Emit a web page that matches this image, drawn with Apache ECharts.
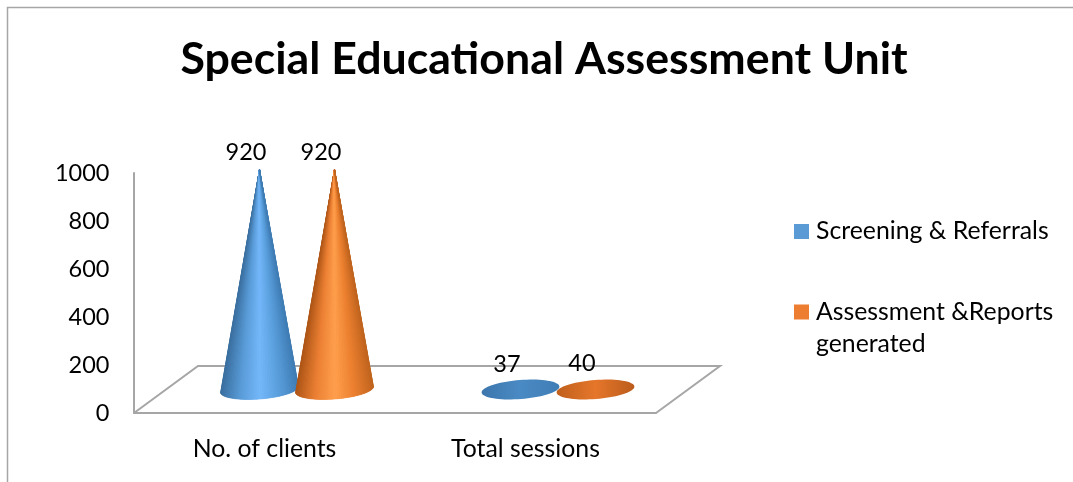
<!DOCTYPE html>
<html>
<head>
<meta charset="utf-8">
<style>html,body{margin:0;padding:0;background:#fff}#c{width:1073px;height:482px}</style>
<script src="https://cdn.jsdelivr.net/npm/echarts@6/dist/echarts.min.js"></script>
</head>
<body>
<div id="c"></div>
<script>
const titleText = "Special Educational Assessment Unit";
const categories = ["No. of clients", "Total sessions"];
const screening = [920, 37];
const assessment = [920, 40];
const seriesNames = ["Screening & Referrals", "Assessment &Reports generated"];

const FONT = "Lato";
const GRAY = "#a6a6a6";
const DEPTH_X = 64, DEPTH_Y = 47, CLUSTER = 37.5, RX = 39, RY = 9.5, TILT = -4.5 * Math.PI / 180;

const palettes = [
  { tall: ["#3f7cb4", "#5a9fdc", "#75b8fb", "#5a9cd8", "#3a6e9e"], flat: ["#3c76ad", "#4a8ac4", "#3f7db5"] },
  { tall: ["#c0641f", "#ec8030", "#ffa04e", "#ec8034", "#ad5517"], flat: ["#c0601d", "#e5762a", "#bb5c1c"] }
];

function hull(pts) {
  const p = pts.slice().sort((a, b) => a[0] - b[0] || a[1] - b[1]);
  const cross = (o, a, b) => (a[0] - o[0]) * (b[1] - o[1]) - (a[1] - o[1]) * (b[0] - o[0]);
  const lo = [], up = [];
  for (const q of p) { while (lo.length > 1 && cross(lo[lo.length - 2], lo[lo.length - 1], q) <= 0) lo.pop(); lo.push(q); }
  for (const q of p.slice().reverse()) { while (up.length > 1 && cross(up[up.length - 2], up[up.length - 1], q) <= 0) up.pop(); up.push(q); }
  return lo.slice(0, -1).concat(up.slice(0, -1));
}

function coneRenderer(seriesIndex) {
  return function (params, api) {
    const cat = api.value(0), val = api.value(1);
    const base = api.coord([cat, 0]);
    const top = api.coord([cat, val]);
    const side = seriesIndex === 0 ? -1 : 1;
    const cx = base[0] + DEPTH_X / 2 + side * CLUSTER + 0.5;
    const cy = base[1] - DEPTH_Y / 2;
    const tipY = top[1] - DEPTH_Y / 2 + 1;
    const ell = t => [
      cx + RX * Math.cos(t) * Math.cos(TILT) - RY * Math.sin(t) * Math.sin(TILT),
      cy + RX * Math.cos(t) * Math.sin(TILT) + RY * Math.sin(t) * Math.cos(TILT)
    ];
    const pts = [[cx, tipY]];
    for (let i = 0; i < 72; i++) pts.push(ell(i / 72 * Math.PI * 2));
    const pal = palettes[seriesIndex];
    const isTall = base[1] - top[1] > RY * 2;
    const cols = isTall ? pal.tall : pal.flat;
    const stops = cols.map((c, i) => ({ offset: i / (cols.length - 1), color: c }));
    const children = [{
      type: "polygon",
      shape: { points: hull(pts) },
      style: {
        fill: isTall ? cols[1] : { type: "linear", x: cx - RX, y: 0, x2: cx + RX, y2: 0, global: true, colorStops: stops }
      }
    }];
    if (isTall) {
      const N = 60;
      for (let i = 0; i < N; i++) {
        const a = Math.PI - i / N * Math.PI, b = Math.PI - (i + 1) / N * Math.PI;
        const frac = (1 - Math.cos((a + b) / 2)) / 2;
        const col = echarts.color.lerp(frac, cols);
        children.push({
          type: "polygon",
          shape: { points: [[cx, tipY], ell(a), ell(b)] },
          style: { fill: col, stroke: col, lineWidth: 0.6 }
        });
      }
    }
    children.push({
      type: "text",
      z2: 10,
      style: {
        text: String(val),
        x: cx - 13.5,
        y: top[1] - 40,
        align: "center",
        verticalAlign: "middle",
        fill: "#000",
        font: "23.5px " + FONT
      }
    });
    return { type: "group", children };
  };
}

function floorRenderer(params, api) {
  const g = params.coordSys;
  const yb = g.y + g.height, xl = g.x, xr = g.x + g.width;
  return {
    type: "polyline",
    shape: { points: [[xl, yb], [xl + DEPTH_X, yb - DEPTH_Y], [xr + DEPTH_X, yb - DEPTH_Y], [xr, yb]] },
    style: { fill: null, stroke: GRAY, lineWidth: 2 }
  };
}

const chart = echarts.init(document.getElementById("c"), null, { renderer: "canvas" });
chart.setOption({
  animation: false,
  backgroundColor: "#fff",
  title: {
    text: titleText, left: 539, top: 32, textAlign: "center",
    textStyle: { fontFamily: FONT, fontWeight: "bold", fontSize: 44.7, color: "#000" }
  },
  grid: { left: 134, right: 417, top: 173, bottom: 69, containLabel: false },
  legend: [
    {
      data: [{ name: seriesNames[0], icon: "rect" }],
      left: 789, top: 214, itemWidth: 15, itemHeight: 15, itemGap: 0,
      selectedMode: false,
      textStyle: { fontFamily: FONT, fontSize: 24.8, color: "#000", padding: [0, 0, 0, 2] }
    },
    {
      data: [{ name: seriesNames[1], icon: "path://M0 0h15v15h-15zM0 47h0v0z" }],
      left: 789, top: 291, itemWidth: 15, itemHeight: 47, itemGap: 0,
      selectedMode: false,
      formatter: n => n.replace(" generated", "\ngenerated"),
      textStyle: { fontFamily: FONT, fontSize: 24.8, lineHeight: 32, color: "#000", padding: [0, 0, 0, 2] }
    }
  ],
  xAxis: {
    type: "category", data: categories,
    axisTick: { show: false },
    axisLine: { lineStyle: { color: GRAY, width: 2 } },
    axisLabel: { fontFamily: FONT, fontSize: 24.8, color: "#000", margin: 24 }
  },
  yAxis: {
    type: "value", min: 0, max: 1000, interval: 200,
    splitLine: { show: false },
    axisTick: { show: false },
    axisLine: { show: true, lineStyle: { color: GRAY, width: 2 } },
    axisLabel: { fontFamily: FONT, fontSize: 23.5, color: "#000", margin: 24.5, padding: [8, 0, 0, 0], formatter: v => String(v) }
  },
  graphic: [
    { type: "polyline", silent: true, shape: { points: [[7.5, 482], [7.5, 7.5], [1073, 7.5]] }, style: { fill: null, stroke: GRAY, lineWidth: 1.5 } }
  ],
  series: [
    { type: "custom", name: "floor", silent: true, renderItem: floorRenderer, data: [[0, 0]], encode: { x: 0, y: 1 }, z: 1 },
    {
      type: "custom", name: seriesNames[0], renderItem: coneRenderer(0), z: 2,
      itemStyle: { color: "#5b9bd5" }, encode: { x: 0, y: 1 },
      data: screening.map((v, i) => [i, v])
    },
    {
      type: "custom", name: seriesNames[1], renderItem: coneRenderer(1), z: 3,
      itemStyle: { color: "#ed7d31" }, encode: { x: 0, y: 1 },
      data: assessment.map((v, i) => [i, v])
    }
  ]
});
</script>
</body>
</html>
